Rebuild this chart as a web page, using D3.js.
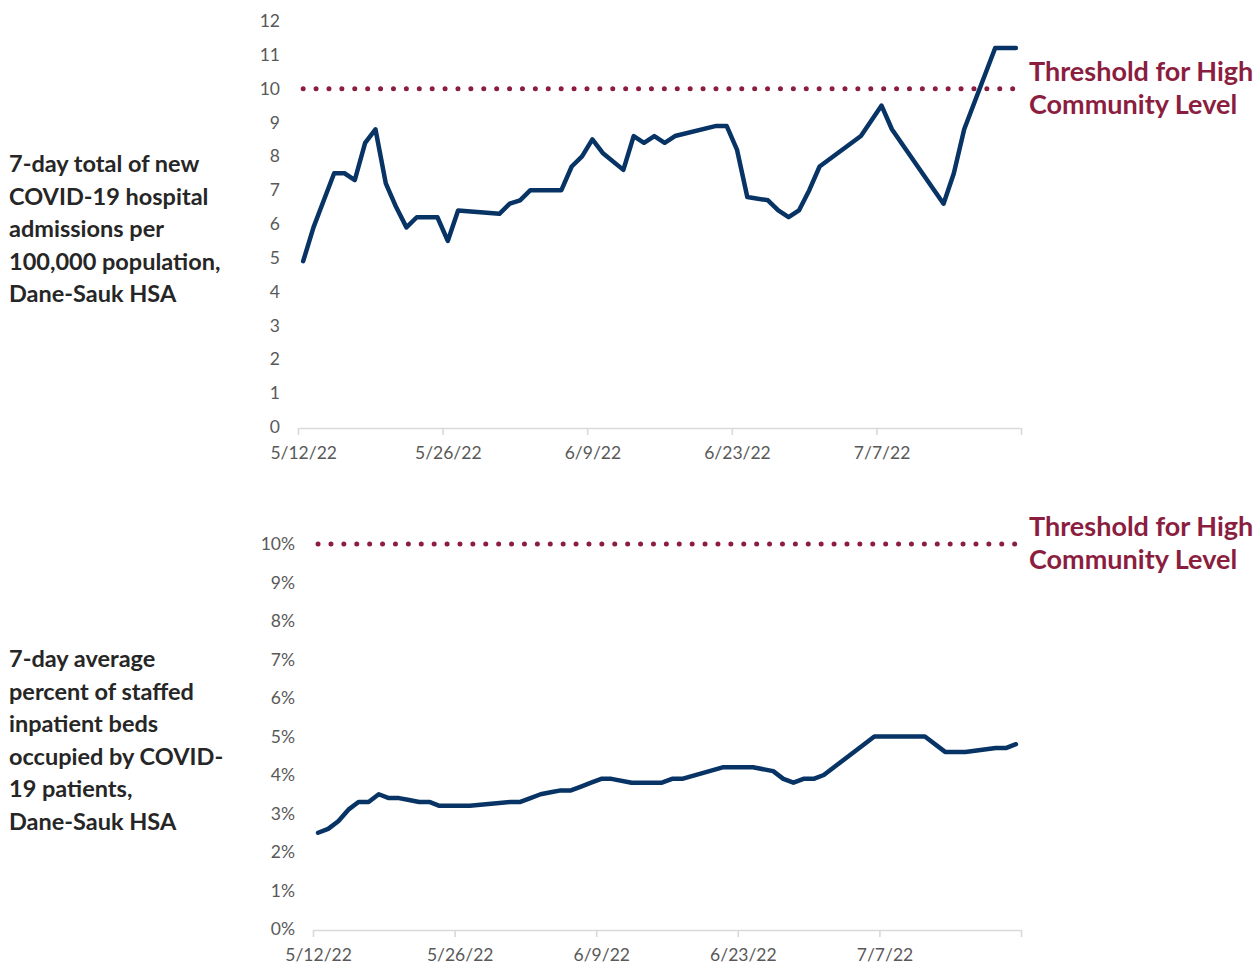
<!DOCTYPE html>
<html>
<head>
<meta charset="utf-8">
<script src="https://cdn.jsdelivr.net/npm/d3@7"></script>
<style>
  body { margin: 0; background: #fff; }
  svg { display: block; }
</style>
</head>
<body>
<svg id="chart" width="1259" height="965"></svg>
<script>
// hospital admissions per 100k (7-day total)
const admitDates = ["5/12","5/13","5/14","5/15","5/16","5/17","5/18","5/19","5/20","5/21","5/22","5/23","5/24","5/25","5/26","5/27","5/31","6/1","6/2","6/3","6/6","6/7","6/8","6/9","6/10","6/12","6/13","6/14","6/15","6/16","6/17","6/21","6/22","6/23","6/24","6/26","6/27","6/28","6/29","6/30","7/1","7/5","7/7","7/8","7/13","7/14","7/15","7/18","7/20"];
const admitValues = [4.9,5.9,6.7,7.5,7.5,7.3,8.4,8.8,7.2,6.5,5.9,6.2,6.2,6.2,5.5,6.4,6.3,6.6,6.7,7.0,7.0,7.7,8.0,8.5,8.1,7.6,8.6,8.4,8.6,8.4,8.6,8.9,8.9,8.2,6.8,6.7,6.4,6.2,6.4,7.0,7.7,8.6,9.5,8.8,6.6,7.5,8.8,11.2,11.2];

// percent of staffed inpatient beds occupied by covid patients
const bedDates = ["5/12","5/13","5/14","5/15","5/16","5/17","5/18","5/19","5/20","5/21","5/22","5/23","5/24","5/25","5/26","5/27","5/31","6/1","6/2","6/3","6/4","6/5","6/6","6/7","6/8","6/9","6/10","6/12","6/13","6/14","6/15","6/16","6/17","6/21","6/22","6/23","6/24","6/26","6/27","6/28","6/29","6/30","7/1","7/5","7/6","7/7","7/8","7/11","7/13","7/14","7/15","7/18","7/19","7/20"];
const bedValues = [2.5,2.6,2.8,3.1,3.3,3.3,3.5,3.4,3.4,3.35,3.3,3.3,3.2,3.2,3.2,3.2,3.3,3.3,3.4,3.5,3.55,3.6,3.6,3.7,3.8,3.9,3.9,3.8,3.8,3.8,3.8,3.9,3.9,4.2,4.2,4.2,4.2,4.1,3.9,3.8,3.9,3.9,4.0,4.8,5.0,5.0,5.0,5.0,4.6,4.6,4.6,4.7,4.7,4.8];

const tickDates = ["5/12","5/26","6/9","6/23","7/7","7/21"];
const admitTicks = [0,1,2,3,4,5,6,7,8,9,10,11,12];
const bedTicks = [0,1,2,3,4,5,6,7,8,9,10];
const threshold = 10;

const admitTitle = ["7-day total of new","COVID-19 hospital","admissions per","100,000 population,","Dane-Sauk HSA"];
const bedTitle = ["7-day average","percent of staffed","inpatient beds","occupied by COVID-","19 patients,","Dane-Sauk HSA"];
const thresholdLabel = ["Threshold for High","Community Level"];

const parse = s => { const [m, d] = s.split("/"); return new Date(2022, +m - 1, +d); };
const noon = s => d3.timeHour.offset(parse(s), 12);
const fmtTick = d => (d.getMonth() + 1) + "/" + d.getDate() + "/22";

const svg = d3.select("#chart");
const lineColor = "#073365";
const threshColor = "#8b1e3f";

function drawPanel(o) {
  const x = d3.scaleTime().domain([parse("5/12"), parse("7/21")]).range([o.x0, o.x1]);
  const y = d3.scaleLinear().domain([0, o.ymax]).range([o.yBottom, o.yTop]);
  const halfDay = (x(parse("5/13")) - x(parse("5/12"))) / 2;
  const g = svg.append("g");

  // y axis labels only
  const yAx = g.append("g")
    .attr("transform", `translate(${o.x0},0)`)
    .call(d3.axisLeft(y).tickValues(o.yTicks).tickSize(0).tickPadding(o.yPad).tickFormat(o.yFmt));
  yAx.select(".domain").remove();
  yAx.selectAll("text")
    .style("font-family", "Lato, 'Liberation Sans', sans-serif")
    .style("font-size", "17.5px")
    .attr("fill", "#595959");

  // x axis
  const xAx = g.append("g")
    .attr("transform", `translate(0,${o.yBottom + 1})`)
    .call(d3.axisBottom(x).tickValues(tickDates.map(parse)).tickSize(7).tickSizeOuter(0)
      .tickFormat((d, i) => i < tickDates.length - 1 ? fmtTick(d) : ""));
  xAx.select(".domain").attr("stroke", "#d9d9d9").attr("stroke-width", 1.6);
  xAx.selectAll(".tick line").attr("stroke", "#d9d9d9").attr("stroke-width", 1.6);
  xAx.selectAll("text")
    .attr("x", halfDay)
    .attr("dy", "0.71em")
    .attr("y", 19)
    .style("font-family", "Lato, 'Liberation Sans', sans-serif")
    .style("font-size", "17.5px")
    .attr("fill", "#595959");

  // threshold dots
  g.append("line")
    .attr("x1", x(noon(o.dates[0])))
    .attr("x2", x(noon(o.dates[o.dates.length - 1])))
    .attr("y1", y(threshold)).attr("y2", y(threshold))
    .attr("stroke", threshColor)
    .attr("stroke-width", 5)
    .attr("stroke-linecap", "round")
    .attr("stroke-dasharray", "0 12.9");

  // series line
  const pts = o.dates.map((d, i) => ({ date: noon(d), value: o.values[i] }));
  g.append("path")
    .datum(pts)
    .attr("fill", "none")
    .attr("stroke", lineColor)
    .attr("stroke-width", 4.5)
    .attr("stroke-linejoin", "round")
    .attr("stroke-linecap", "round")
    .attr("d", d3.line().x(d => x(d.date)).y(d => y(d.value)));

  // threshold label
  const tl = g.append("text")
    .attr("x", 1029)
    .attr("y", y(threshold) - 8)
    .style("font-family", "Lato, sans-serif")
    .style("font-weight", "700")
    .style("font-size", "27px")
    .attr("fill", threshColor);
  thresholdLabel.forEach((t, i) => {
    tl.append("tspan").attr("x", 1029).attr("dy", i ? 33 : 0).text(t);
  });

  // left title
  const tt = g.append("text")
    .attr("x", 9)
    .attr("y", o.titleY)
    .style("font-family", "Lato, 'Liberation Sans', sans-serif")
    .style("font-weight", "700")
    .style("font-size", "23.5px")
    .attr("fill", "#262626");
  o.title.forEach((t, i) => {
    tt.append("tspan").attr("x", 9).attr("dy", i ? 32.6 : 0).text(t);
  });
}

drawPanel({
  dates: admitDates, values: admitValues, ymax: 12, yTicks: admitTicks,
  yFmt: d => d, yPad: 18,
  x0: 298, x1: 1021, yTop: 21, yBottom: 427,
  title: admitTitle, titleY: 172
});

drawPanel({
  dates: bedDates, values: bedValues, ymax: 10, yTicks: bedTicks,
  yFmt: d => d + "%", yPad: 18,
  x0: 313, x1: 1021, yTop: 544, yBottom: 929,
  title: bedTitle, titleY: 667
});
</script>
</body>
</html>
